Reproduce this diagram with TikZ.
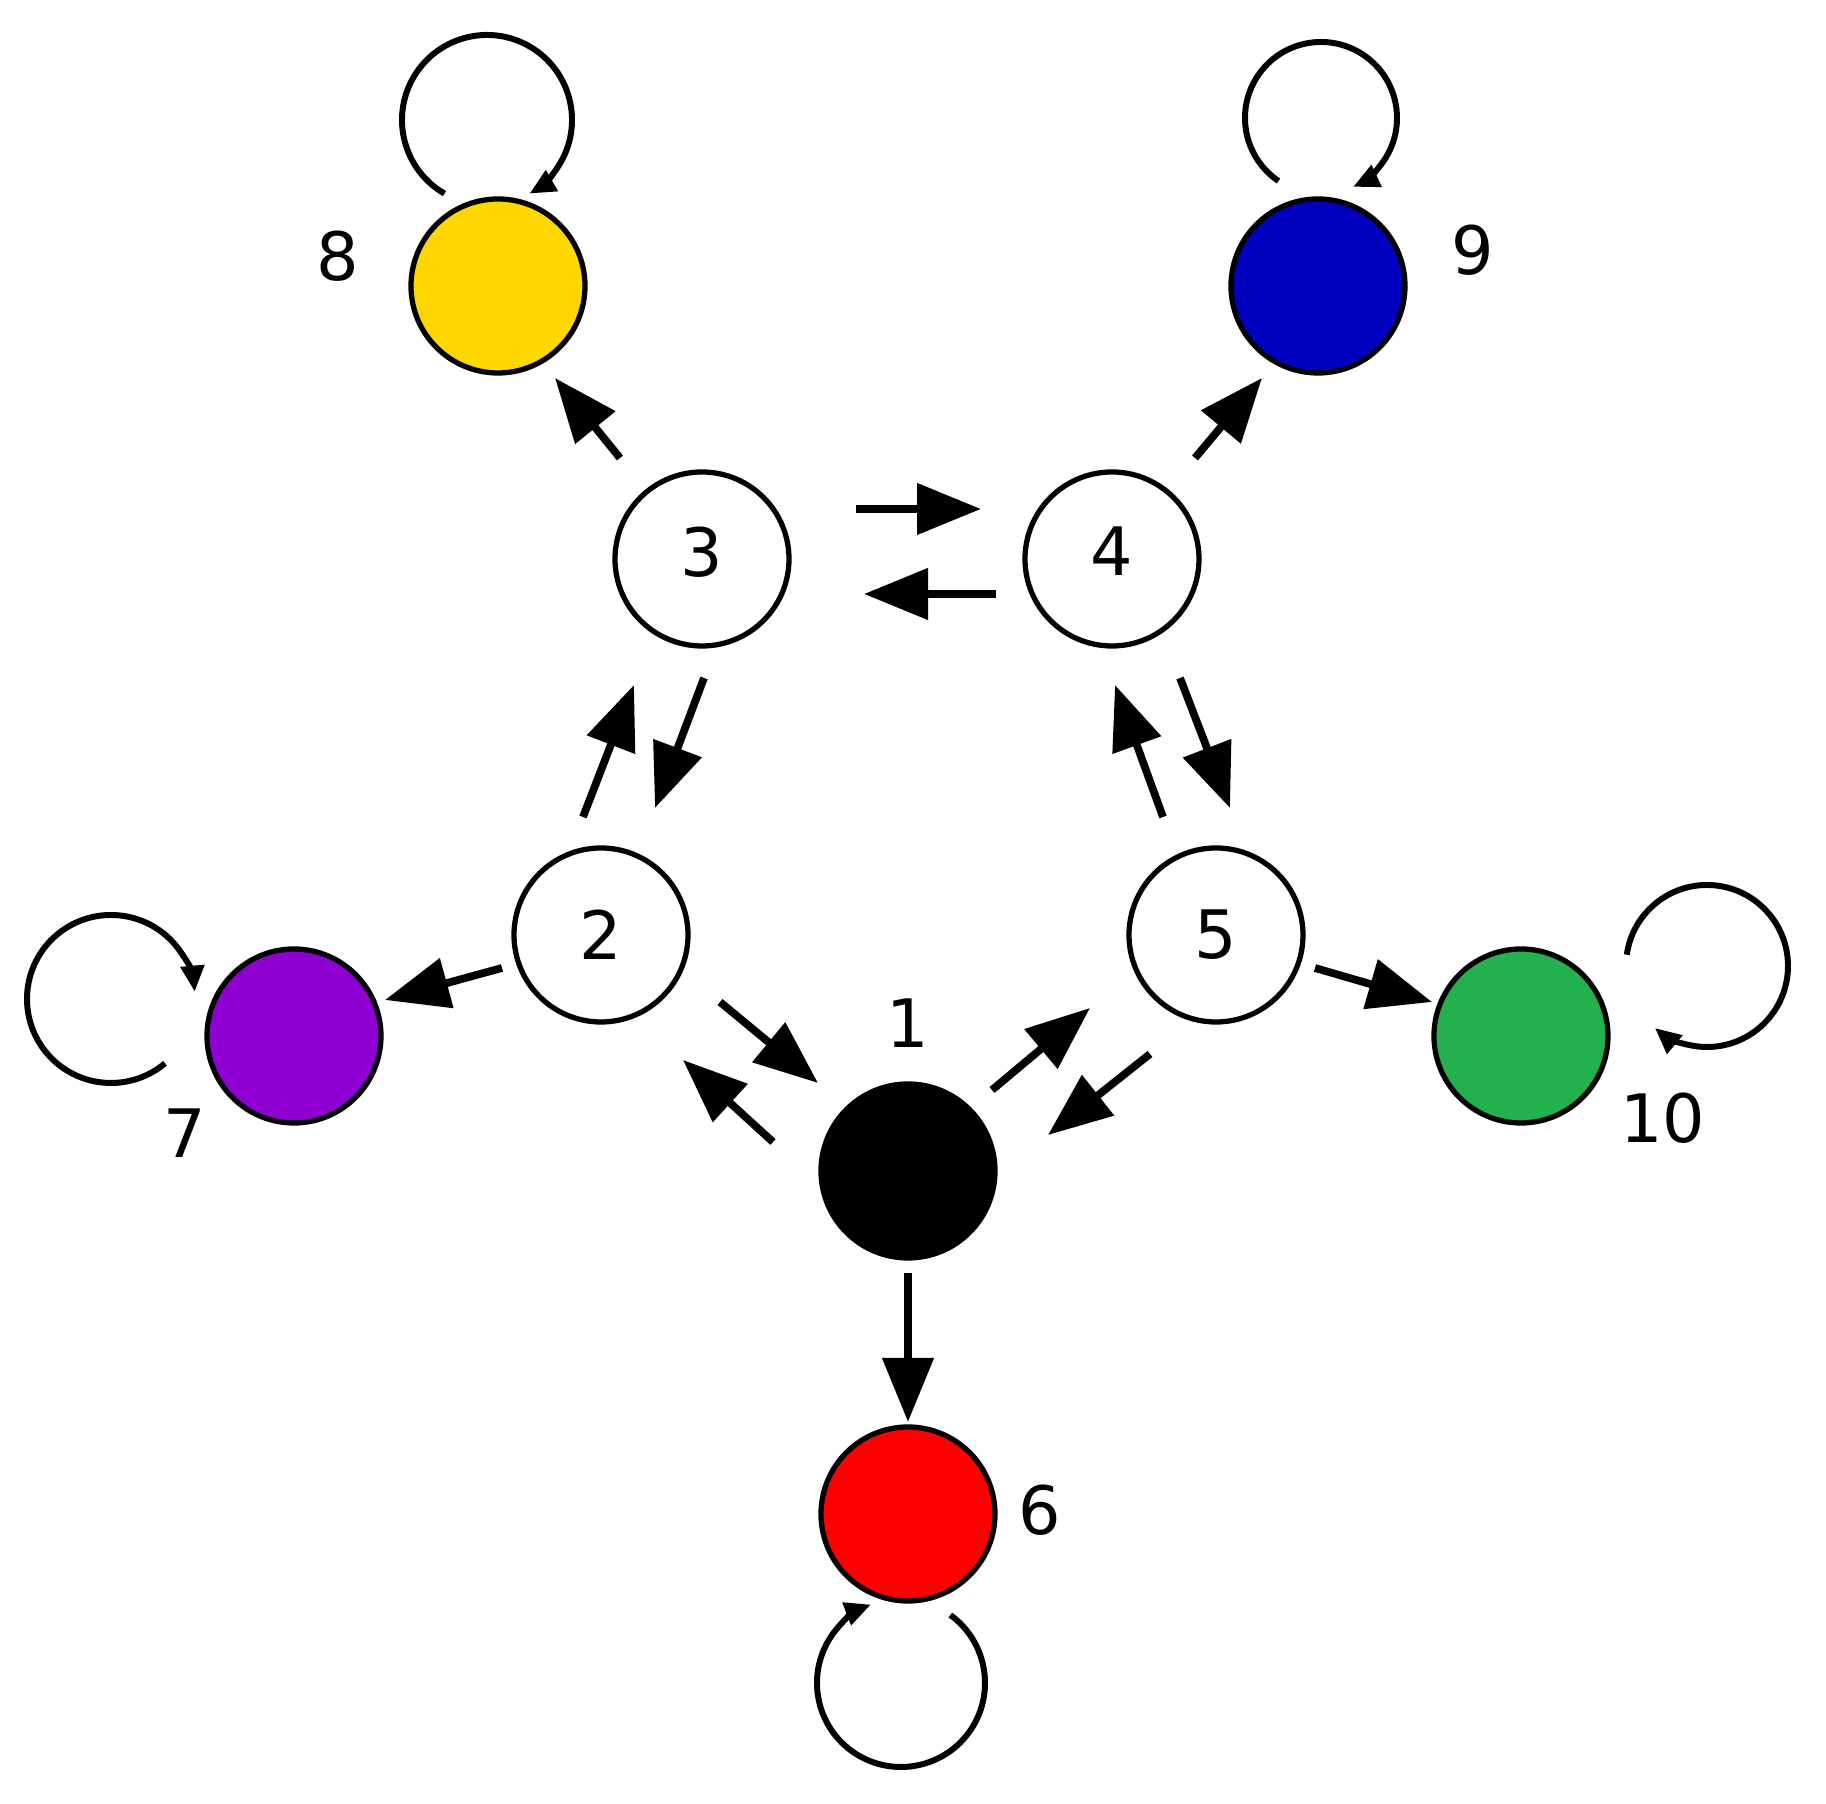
\documentclass[tikz,border=0pt]{standalone}
\usepackage{fontspec}
\setmainfont{DejaVu Sans}
\usepackage{tikz}
\usetikzlibrary{arrows.meta,calc}

\definecolor{stateyellow}{RGB}{255,215,0}
\definecolor{stateblue}{RGB}{0,0,190}
\definecolor{statepurple}{RGB}{145,0,210}
\definecolor{stategreen}{RGB}{34,177,76}
\definecolor{statered}{RGB}{255,0,0}

\begin{document}
\begin{tikzpicture}[
  font=\fontsize{19}{22}\selectfont,
  state/.style={circle, draw, line width=1.5pt, minimum size=1.74cm, inner sep=0pt},
  arr/.style={-{Triangle[length=6.4mm, width=5mm]}, line width=2.2pt},
  selfarr/.style={-{Triangle[length=2.6mm, width=2.3mm]}, line width=1.7pt}
]
\useasboundingbox (0,0) rectangle (18.26,18.04);

% states
\node[state, fill=black] (n1) at (9.08,6.33) {};
\node[state, fill=white] (n2) at (6.01,8.69) {2};
\node[state, fill=white] (n3) at (7.02,12.45) {\raisebox{1.5mm}{3}};
\node[state, fill=white] (n4) at (11.12,12.45) {\raisebox{1.5mm}{4}};
\node[state, fill=white] (n5) at (12.16,8.69) {5};
\node[state, fill=statered] (n6) at (9.08,2.90) {};
\node[state, fill=statepurple] (n7) at (2.94,7.68) {};
\node[state, fill=stateyellow] (n8) at (4.98,15.18) {};
\node[state, fill=stateblue] (n9) at (13.18,15.18) {};
\node[state, fill=stategreen] (n10) at (15.21,7.68) {};

% outside labels
\node (l1) at (9.08,7.81) {1};
\node (l6) at (10.40,2.94) {6};
\node (l7) at (1.85,6.71) {7};
\node (l8) at (3.38,15.48) {8};
\node (l9) at (14.73,15.54) {9};
\node (l10) at (16.63,6.86) {10};

% transitions
\draw[arr] ([shift={(1.54,0.5)}]n3.center) -- ([shift={(-1.31,0.5)}]n4.center);
\draw[arr] ([shift={(-1.16,-0.35)}]n4.center) -- ([shift={(1.62,-0.35)}]n3.center);
\draw[arr] ([shift={(-0.82,1.01)}]n3.center) -- ([shift={(0.57,-0.92)}]n8.center);
\draw[arr] ([shift={(0.83,1.01)}]n4.center) -- ([shift={(-0.56,-0.92)}]n9.center);
\draw[arr] ([shift={(-0.18,1.18)}]n2.center) -- ([shift={(-0.68,-1.26)}]n3.center);
\draw[arr] ([shift={(0.02,-1.19)}]n3.center) -- ([shift={(0.54,1.27)}]n2.center);
\draw[arr] ([shift={(-0.53,1.18)}]n5.center) -- ([shift={(0.03,-1.26)}]n4.center);
\draw[arr] ([shift={(0.68,-1.19)}]n4.center) -- ([shift={(0.14,1.27)}]n5.center);
\draw[arr] ([shift={(-0.99,-0.33)}]n2.center) -- ([shift={(0.91,0.36)}]n7.center);
\draw[arr] ([shift={(0.99,-0.33)}]n5.center) -- ([shift={(-0.89,0.34)}]n10.center);
\draw[arr] ([shift={(1.19,-0.67)}]n2.center) -- ([shift={(-0.90,0.88)}]n1.center);
\draw[arr] ([shift={(-1.35,0.29)}]n1.center) -- ([shift={(0.82,-1.25)}]n2.center);
\draw[arr] ([shift={(0.84,0.81)}]n1.center) -- ([shift={(-1.26,-0.73)}]n5.center);
\draw[arr] ([shift={(-0.66,-1.19)}]n5.center) -- ([shift={(1.40,0.36)}]n1.center);
\draw[arr] ([shift={(0,-1.02)}]n1.center) -- ([shift={(0,0.92)}]n6.center);

% self loops
\draw[selfarr] ($(n8)+(-0.11,1.66)+(240:0.85)$) arc[start angle=240, end angle=-60, radius=0.85];
\draw[selfarr] ($(n9)+(0.03,1.68)+(236:0.76)$) arc[start angle=236, end angle=-65, radius=0.76];
\draw[selfarr] ($(n7)+(-1.83,0.37)+(-50:0.84)$) arc[start angle=-50, end angle=-355, radius=0.84];
\draw[selfarr] ($(n6)+(-0.07,-1.69)+(54:0.84)$) arc[start angle=54, end angle=-249, radius=0.84];
\draw[selfarr] ($(n10)+(1.86,0.70)+(172:0.81)$) arc[start angle=172, end angle=-130, radius=0.81];
\end{tikzpicture}
\end{document}
